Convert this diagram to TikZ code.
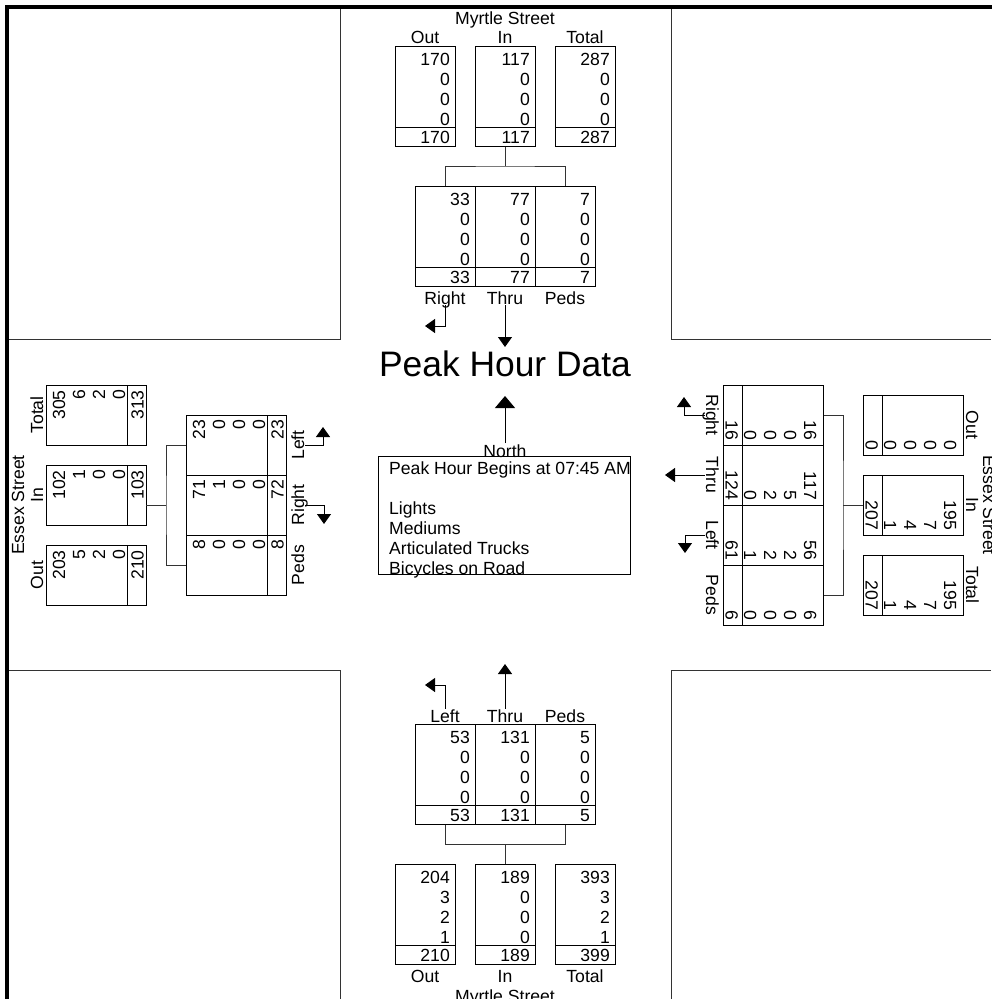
\documentclass[tikz,border=0pt]{standalone}
\usepackage{fontspec}
\setmainfont{Liberation Sans}
\usepackage{tikz}
\usetikzlibrary{arrows.meta}

\newcommand{\fs}{\fontsize{17.6pt}{20pt}\selectfont}
\newcommand{\fbig}{\fontsize{35.4pt}{40pt}\selectfont}

\tikzset{
  cbox/.style={draw, line width=1pt, minimum width=60pt, minimum height=100pt, inner sep=0pt},
  num/.style={anchor=base east, inner sep=0pt},
  lbl/.style={anchor=base, inner sep=1pt, text depth=0pt},
  link/.style={line width=1pt, draw=black!80},
  turn/.style={line width=1pt, -{Triangle[width=14pt,length=10pt]}},
  quad/.style={line width=1pt, draw=black!80},
}

% caixa de contagem: nome, centro x, topo y, valores
\newcommand{\cntcol}[4]{%
  \node[cbox] (#1) at (#2,#3+50) {};
  \draw[line width=1pt] (#2-30,#3+81) -- (#2+30,#3+81);
  \foreach \v [count=\i] in {#4} {
    \pgfmathsetmacro{\yb}{\i<5 ? #3+19+20*(\i-1) : #3+97.5}
    \node[num] (#1-\i) at (#2+25,\yb) {\v};
  }
}

\begin{document}
\begin{tikzpicture}[x=1pt, y=-1pt, every node/.style={font=\fs}]
\useasboundingbox (0,0) rectangle (991,999);

% Moldura e quadras
\draw[line width=4pt] (7,1000) -- (7,7) -- (992,7);
\draw[quad] (340,9) -- (340,339) -- (9,339);
\draw[quad] (671,9) -- (671,339) -- (991,339);
\draw[quad] (340,999) -- (340,670) -- (9,670);
\draw[quad] (671,999) -- (671,670) -- (991,670);

% Centro
\node[font=\fbig, anchor=base] (title) at (505,376) {Peak Hour Data};
\node[draw, line width=1pt, minimum width=252pt, minimum height=118pt, inner sep=0pt] (info) at (504,515) {};
\node[lbl] (north) at (505,457) {North};
\coordinate (nTip) at (505,396);
\draw[line width=1pt, -{Triangle[width=20pt,length=12pt]}] (north.north) -- (nTip);
\foreach \t/\yy [count=\k] in {Peak Hour Begins at 07:45 AM/474, Lights/514, Mediums/534, Articulated Trucks/554, Bicycles on Road/574}
  \node[anchor=base west, inner sep=0pt] (txt\k) at (389,\yy) {\t};

% Aproximação norte
\begin{scope}[shift={(505,505)}]
\node[anchor=base] (stN) at (0,-481) {Myrtle Street};
\node[lbl] (hOutN) at (-80,-462) {Out};
\node[lbl] (hInN) at (0,-462) {In};
\node[lbl] (hTotN) at (80,-462) {Total};
\cntcol{outN}{-80}{-459}{170,0,0,0,170}
\cntcol{inN}{0}{-459}{117,0,0,0,117}
\cntcol{totN}{80}{-459}{287,0,0,0,287}
\coordinate (jN) at (0,-339);
\draw[link] (inN.south) -- (jN);
\cntcol{rtN}{-60}{-319}{33,0,0,0,33}
\cntcol{thN}{0}{-319}{77,0,0,0,77}
\cntcol{pdN}{60}{-319}{7,0,0,0,7}
\draw[link] (rtN.north) |- (jN) -| (pdN.north);
\node[lbl] (lRtN) at (-60,-201) {Right};
\node[lbl] (lThN) at (0,-201) {Thru};
\node[lbl] (lPdN) at (60,-201) {Peds};
\coordinate (aRtN) at (-80,-179);
\coordinate (aThN) at (0,-158);
\draw[turn] (lRtN.south) |- (aRtN);
\draw[turn] (lThN.south) -- (aThN);
\end{scope}

% Aproximação oeste
\begin{scope}[shift={(505,505)}, rotate=90, transform shape]
\node[anchor=base] (stW) at (0,-481) {Essex Street};
\node[lbl] (hOutW) at (-70,-462) {Out};
\node[lbl] (hInW) at (10,-462) {In};
\node[lbl] (hTotW) at (90,-462) {Total};
\cntcol{outW}{-70}{-459}{203,5,2,0,210}
\cntcol{inW}{10}{-459}{102,1,0,0,103}
\cntcol{totW}{90}{-459}{305,6,2,0,313}
\coordinate (iW) at (0,-359);
\coordinate (jW) at (0,-339);
\draw[link] (iW) -- (jW);
\cntcol{pdW}{-60}{-319}{8,0,0,0,8}
\cntcol{rtW}{0}{-319}{71,1,0,0,72}
\cntcol{ltW}{60}{-319}{23,0,0,0,23}
\draw[link] (pdW.north) |- (jW) -| (ltW.north);
\node[lbl] (lPdW) at (-60,-201) {Peds};
\node[lbl] (lRtW) at (0,-201) {Right};
\node[lbl] (lLtW) at (60,-201) {Left};
\coordinate (aLtW) at (78,-182);
\coordinate (aRtW) at (-19,-181);
\draw[turn] (lLtW.south) |- (aLtW);
\draw[turn] (lRtW.south) |- (aRtW);
\end{scope}

% Aproximação leste
\begin{scope}[shift={(505,505)}, rotate=-90, transform shape]
\node[anchor=base] (stE) at (0,-478) {Essex Street};
\node[lbl] (hOutE) at (-80,-461) {Out};
\node[lbl] (hInE) at (0,-461) {In};
\node[lbl] (hTotE) at (80,-461) {Total};
\cntcol{outE}{-80}{-458}{0,0,0,0,0}
\cntcol{inE}{0}{-458}{195,7,4,1,207}
\cntcol{totE}{80}{-458}{195,7,4,1,207}
\coordinate (jE) at (0,-338);
\draw[link] (inE.south) -- (jE);
\cntcol{rtE}{-90}{-318}{16,0,0,0,16}
\cntcol{thE}{-30}{-318}{117,5,2,0,124}
\cntcol{ltE}{30}{-318}{56,2,2,1,61}
\cntcol{pdE}{90}{-318}{6,0,0,0,6}
\draw[link] (rtE.north) |- (jE) -| (pdE.north);
\node[lbl] (lRtE) at (-90,-201) {Right};
\node[lbl] (lThE) at (-30,-201) {Thru};
\node[lbl] (lLtE) at (30,-201) {Left};
\node[lbl] (lPdE) at (90,-201) {Peds};
\coordinate (aRtE) at (-108,-179);
\coordinate (aThE) at (-30,-160);
\coordinate (aLtE) at (48,-180);
\draw[turn] (lRtE.south) |- (aRtE);
\draw[turn] (lThE.south) -- (aThE);
\draw[turn] (lLtE.south) |- (aLtE);
\end{scope}

% Aproximação sul
\begin{scope}[shift={(505,505)}]
\node[lbl] (lLtS) at (-60,217.5) {Left};
\node[lbl] (lThS) at (0,217.5) {Thru};
\node[lbl] (lPdS) at (60,217.5) {Peds};
\cntcol{ltS}{-60}{219}{53,0,0,0,53}
\cntcol{thS}{0}{219}{131,0,0,0,131}
\cntcol{pdS}{60}{219}{5,0,0,0,5}
\coordinate (jS) at (0,339);
\draw[link] (ltS.south) |- (jS) -| (pdS.south);
\cntcol{outS}{-80}{359}{204,3,2,1,210}
\cntcol{inS}{0}{359}{189,0,0,0,189}
\cntcol{totS}{80}{359}{393,3,2,1,399}
\draw[link] (jS) -- (inS.north);
\node[lbl] (hOutS) at (-80,477.6) {Out};
\node[lbl] (hInS) at (0,477.6) {In};
\node[lbl] (hTotS) at (80,477.6) {Total};
\node[anchor=base] (stS) at (0,497.6) {Myrtle Street};
\coordinate (aLtS) at (-80,180);
\coordinate (aThS) at (0,159);
\draw[turn] (lLtS.north) |- (aLtS);
\draw[turn] (lThS.north) -- (aThS);
\end{scope}
\end{tikzpicture}
\end{document}
